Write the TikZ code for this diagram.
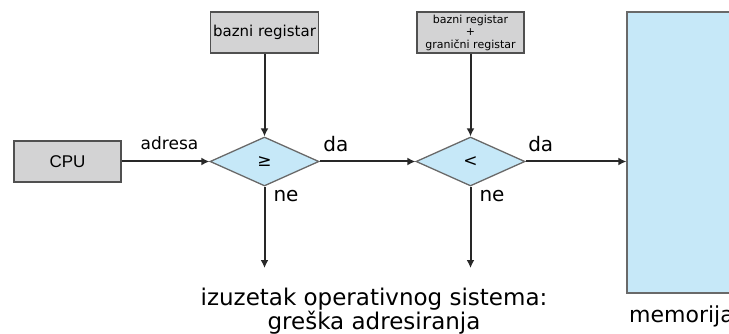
\documentclass[tikz,border=0pt]{standalone}
\usepackage{fontspec}
\setmainfont{DejaVu Sans}
\newfontfamily\arialfont{Liberation Sans}
\usetikzlibrary{shapes.geometric, arrows.meta}

\definecolor{boxgray}{RGB}{211,211,212}
\definecolor{boxline}{RGB}{80,80,80}
\definecolor{cmpblue}{RGB}{198,232,248}
\definecolor{cmpline}{RGB}{105,105,105}
\definecolor{arrowgray}{RGB}{40,40,40}

\begin{document}
\begin{tikzpicture}[x=1pt, y=-1pt,
		regbox/.style={draw=boxline, fill=boxgray, line width=1.3pt, rectangle, inner sep=0pt},
		cmpbox/.style={draw=cmpline, fill=cmpblue, line width=1.3pt, diamond, inner sep=0pt, minimum width=109pt, minimum height=49pt, font=\fontsize{17}{17}\selectfont},
		arr/.style={draw=arrowgray, line width=2pt, -{Latex[length=8pt, width=8pt]}},
		lbl/.style={font=\fontsize{20}{20}\selectfont, inner sep=0pt}]
					\def\rowY{161.5};

					\useasboundingbox (0,0) rectangle (729,334);

					\begin{scope}
						\node[regbox, minimum width=107pt, minimum height=41pt, font=\arialfont\fontsize{17}{17}\selectfont] (cpu) at (67.5,\rowY) {CPU};
						\node[regbox, minimum width=108pt, minimum height=41pt, font=\fontsize{15}{15}\selectfont] (base) at (264.5,32.5) {bazni registar};
						\node[regbox, minimum width=107pt, minimum height=41pt, align=center, font=\fontsize{11}{12.5}\selectfont] (limit) at (470.5,32.5) {bazni registar\\+\\granični registar};
					\end{scope}

					\begin{scope}
						\node[cmpbox] (cmp1) at (264.5,\rowY) {≥};
						\node[cmpbox] (cmp2) at (470.5,\rowY) {<};
						\node[draw=cmpline, fill=cmpblue, line width=1.3pt, rectangle, minimum width=140pt, minimum height=281pt] (mem) at (697,152.5) {};
					\end{scope}

					\begin{scope}
						\coordinate (exc1) at (264.5,268);
						\coordinate (exc2) at (470.5,268);
						\node[font=\fontsize{23}{22}\selectfont, align=center, inner sep=0pt] (exc) at (374,311) {izuzetak operativnog sistema:\\greška adresiranja};
						\node[font=\fontsize{22}{22}\selectfont, anchor=base west, inner sep=0pt] (memlbl) at (629,322) {memorija};
					\end{scope}

					\begin{scope}
						\draw[arr] (cpu.east) -- node[lbl, font=\fontsize{17}{17}\selectfont, above=11pt, xshift=4pt] {adresa} (cmp1.west);
						\draw[arr] (base.south) -- (cmp1.north);
						\draw[arr] (limit.south) -- (cmp2.north);
						\draw[arr] (cmp1.east) -- node[lbl, pos=0.17, above=9pt] {da} (cmp2.west);
						\draw[arr] (cmp2.east) -- node[lbl, pos=0.15, above=9pt] {da} (cmp2.east -| mem.west);
						\draw[arr] (cmp1.south) -- node[lbl, pos=0.12, right=8pt] {ne} (exc1);
						\draw[arr] (cmp2.south) -- node[lbl, pos=0.12, right=8pt] {ne} (exc2);
					\end{scope}
				\end{tikzpicture}
\end{document}
